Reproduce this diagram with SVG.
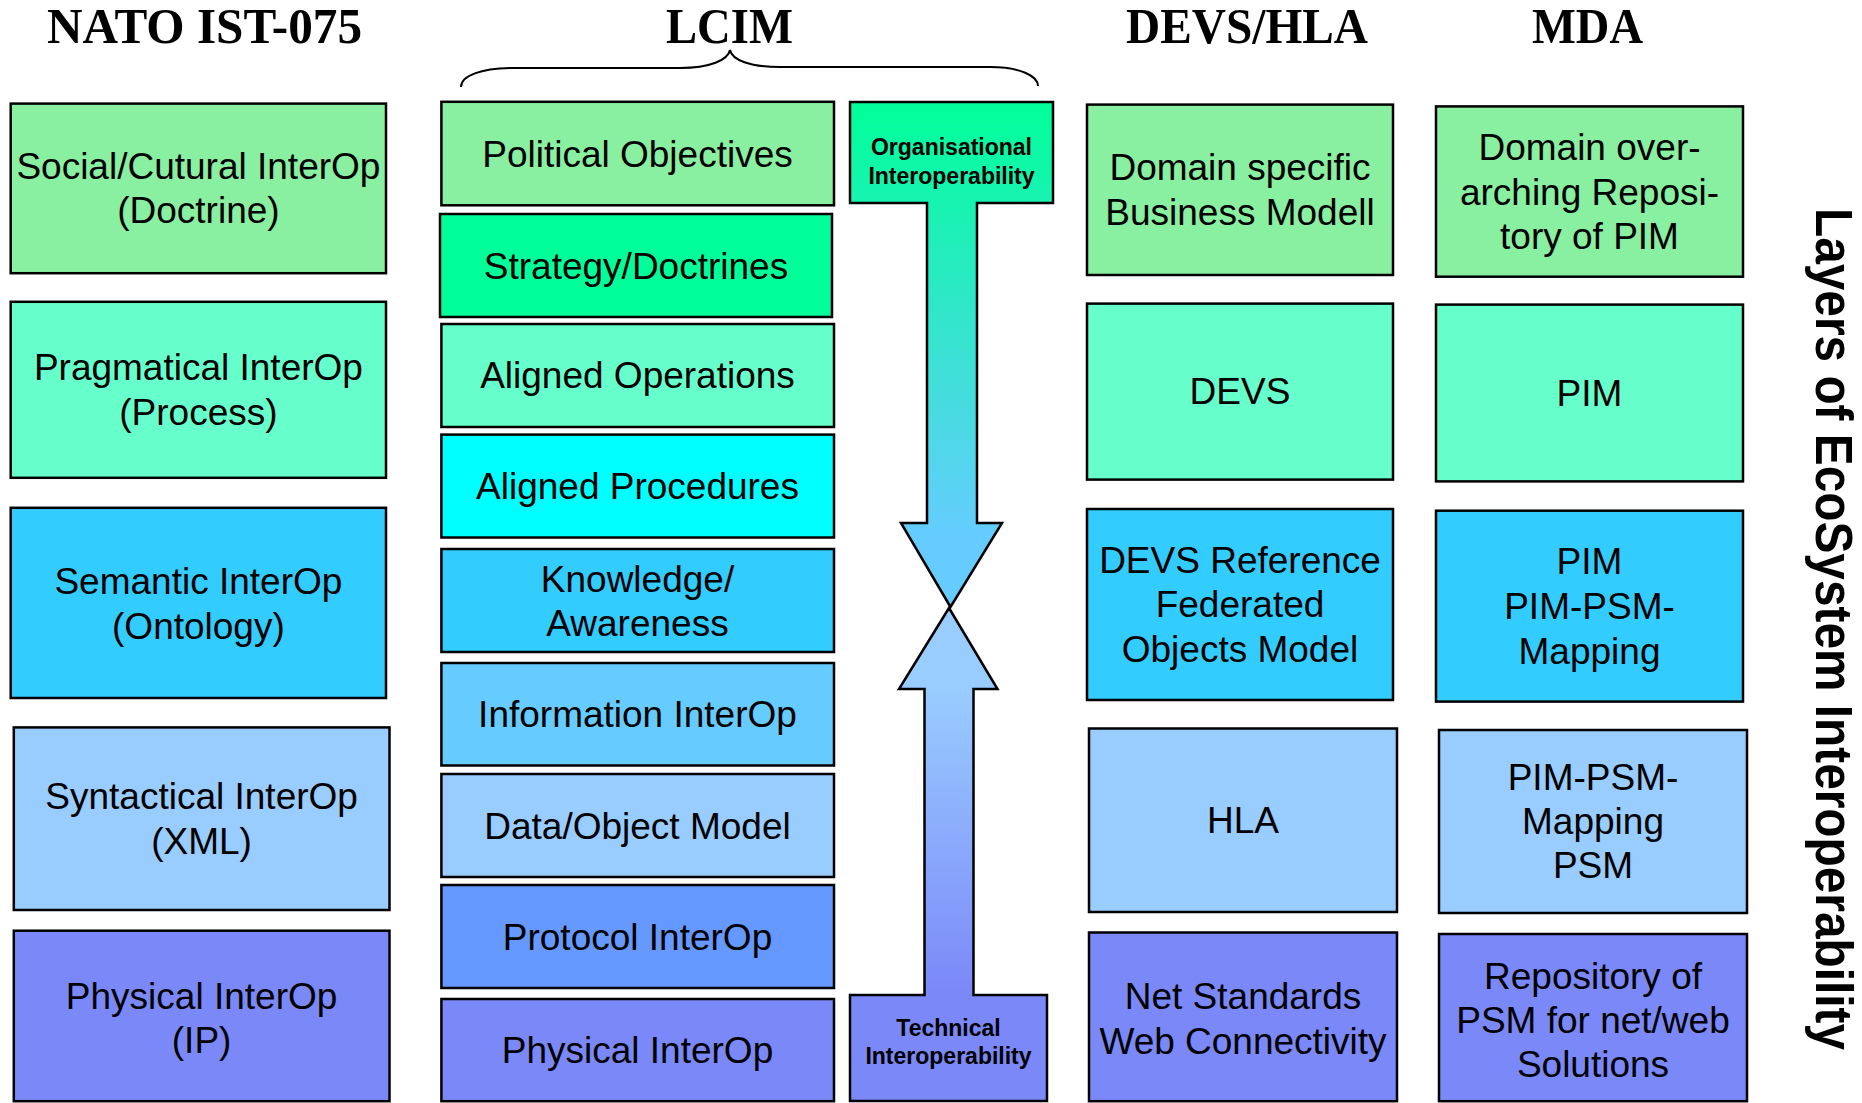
<svg xmlns="http://www.w3.org/2000/svg" width="1862" height="1103" viewBox="0 0 1862 1103">
<style>
.b{stroke:#000;stroke-width:2.5}
.t{font-family:"Liberation Sans",Arial,sans-serif;font-size:37px;fill:#000;text-anchor:middle}
.h{font-family:"Liberation Serif","Times New Roman",serif;font-size:50px;font-weight:bold;fill:#000;text-anchor:middle}
.s{font-family:"Liberation Sans",Arial,sans-serif;font-size:23px;font-weight:bold;fill:#000;text-anchor:middle}
.r1{fill:#88F0A0}.r2{fill:#66FFCC}.r3{fill:#33CCFF}.r4{fill:#99CCFF}.r5{fill:#7B88F8}
</style>
<defs>
<linearGradient id="gDown" gradientUnits="userSpaceOnUse" x1="0" y1="102" x2="0" y2="540">
<stop offset="0" stop-color="#00FF99"/><stop offset="1" stop-color="#66CCFF"/>
</linearGradient>
<linearGradient id="gUp" gradientUnits="userSpaceOnUse" x1="0" y1="690" x2="0" y2="995">
<stop offset="0" stop-color="#99CCFF"/><stop offset="1" stop-color="#7B88F8"/>
</linearGradient>
</defs>
<rect width="1862" height="1103" fill="#fff"/>

<g id="titles">
<text class="h" x="204.5" y="43" textLength="315" lengthAdjust="spacingAndGlyphs">NATO IST-075</text>
<text class="h" x="729.5" y="43" textLength="127" lengthAdjust="spacingAndGlyphs">LCIM</text>
<text class="h" x="1247" y="43" textLength="242" lengthAdjust="spacingAndGlyphs">DEVS/HLA</text>
<text class="h" x="1587.5" y="43" textLength="111" lengthAdjust="spacingAndGlyphs">MDA</text>
</g>

<g id="nato">
<g id="n1"><rect class="b r1" x="10.7" y="103.6" width="375.3" height="169.6"/><text class="t" x="198.4" y="178.6">Social/Cutural InterOp</text><text class="t" x="198.4" y="223">(Doctrine)</text></g>
<g id="n2"><rect class="b r2" x="10.7" y="301.8" width="375.3" height="176"/><text class="t" x="198.4" y="380">Pragmatical InterOp</text><text class="t" x="198.4" y="425">(Process)</text></g>
<g id="n3"><rect class="b r3" x="10.7" y="507.8" width="375.3" height="190.2"/><text class="t" x="198.4" y="594">Semantic InterOp</text><text class="t" x="198.4" y="639">(Ontology)</text></g>
<g id="n4"><rect class="b r4" x="13.8" y="727.4" width="375.7" height="182.6"/><text class="t" x="201.6" y="809">Syntactical InterOp</text><text class="t" x="201.6" y="854">(XML)</text></g>
<g id="n5"><rect class="b r5" x="13.8" y="930.7" width="375.7" height="170.5"/><text class="t" x="201.6" y="1008.5">Physical InterOp</text><text class="t" x="201.6" y="1053">(IP)</text></g>
</g>

<g id="lcim">
<g id="l1"><rect class="b r1" x="441.4" y="101.8" width="392.6" height="103.5"/><text class="t" x="637.5" y="167">Political Objectives</text></g>
<g id="l2"><rect class="b" fill="#00FF99" x="440" y="214" width="392" height="103"/><text class="t" x="636" y="279">Strategy/Doctrines</text></g>
<g id="l3"><rect class="b r2" x="441.4" y="324" width="392.6" height="103"/><text class="t" x="637.5" y="388">Aligned Operations</text></g>
<g id="l4"><rect class="b" fill="#00FFFF" x="441.4" y="434.6" width="392.6" height="102.9"/><text class="t" x="637.5" y="499">Aligned Procedures</text></g>
<g id="l5"><rect class="b r3" x="441.4" y="549" width="392.6" height="103"/><text class="t" x="637.5" y="592">Knowledge/</text><text class="t" x="637.5" y="636">Awareness</text></g>
<g id="l6"><rect class="b" fill="#66CCFF" x="441.4" y="663" width="392.6" height="102.5"/><text class="t" x="637.5" y="727">Information InterOp</text></g>
<g id="l7"><rect class="b r4" x="441.4" y="774" width="392.6" height="103"/><text class="t" x="637.5" y="838.5">Data/Object Model</text></g>
<g id="l8"><rect class="b" fill="#6699FF" x="441.4" y="885" width="392.6" height="103"/><text class="t" x="637.5" y="950">Protocol InterOp</text></g>
<g id="l9"><rect class="b r5" x="441.4" y="999" width="392.6" height="102.2"/><text class="t" x="637.5" y="1063">Physical InterOp</text></g>
</g>

<g id="connectors">
<path id="brace" d="M461,87 C461,76 480,68 515,68 L680,68 C710,68 728,60 730,50 C732,60 750,67 780,67 L990,67 C1020,67 1038,76 1038,86" fill="none" stroke="#000" stroke-width="2"/>
<g id="org-interop">
<path class="b" fill="url(#gDown)" d="M850,102 L1053,102 L1053,203 L977,203 L977,523 L1002,523 L950.5,607 L901,523 L927,523 L927,203 L850,203 Z"/>
<text class="s" x="951.5" y="155">Organisational</text><text class="s" x="951.5" y="184">Interoperability</text>
</g>
<g id="tech-interop">
<path class="b" fill="url(#gUp)" d="M949,608 L997.5,689 L973.5,689 L973.5,995 L1047,995 L1047,1101 L850,1101 L850,995 L924.5,995 L924.5,689 L899,689 Z"/>
<text class="s" x="948.5" y="1035.5">Technical</text><text class="s" x="948.5" y="1064">Interoperability</text>
</g>
</g>

<g id="devs">
<g id="d1"><rect class="b r1" x="1087" y="104.6" width="306" height="170.4"/><text class="t" x="1240" y="180">Domain specific</text><text class="t" x="1240" y="225">Business Modell</text></g>
<g id="d2"><rect class="b r2" x="1087" y="303.6" width="306" height="176"/><text class="t" x="1240" y="403.5">DEVS</text></g>
<g id="d3"><rect class="b r3" x="1087" y="509" width="306" height="191"/><text class="t" x="1240" y="573">DEVS Reference</text><text class="t" x="1240" y="617">Federated</text><text class="t" x="1240" y="662">Objects Model</text></g>
<g id="d4"><rect class="b r4" x="1089" y="728.5" width="308" height="183.5"/><text class="t" x="1243" y="832.6">HLA</text></g>
<g id="d5"><rect class="b r5" x="1089" y="932.5" width="308" height="168.7"/><text class="t" x="1243" y="1008.6">Net Standards</text><text class="t" x="1243" y="1053.5">Web Connectivity</text></g>
</g>

<g id="mda">
<g id="m1"><rect class="b r1" x="1436" y="106.4" width="307" height="170.3"/><text class="t" x="1589.5" y="160">Domain over-</text><text class="t" x="1589.5" y="205">arching Reposi-</text><text class="t" x="1589.5" y="249">tory of PIM</text></g>
<g id="m2"><rect class="b r2" x="1436" y="304.6" width="307" height="176.8"/><text class="t" x="1589.5" y="406">PIM</text></g>
<g id="m3"><rect class="b r3" x="1436" y="510.7" width="307" height="190.9"/><text class="t" x="1589.5" y="574">PIM</text><text class="t" x="1589.5" y="619">PIM-PSM-</text><text class="t" x="1589.5" y="664">Mapping</text></g>
<g id="m4"><rect class="b r4" x="1439" y="730" width="308" height="183"/><text class="t" x="1593" y="789.5">PIM-PSM-</text><text class="t" x="1593" y="834.4">Mapping</text><text class="t" x="1593" y="878">PSM</text></g>
<g id="m5"><rect class="b r5" x="1439" y="934" width="308" height="167.2"/><text class="t" x="1593" y="989">Repository of</text><text class="t" x="1593" y="1032.6">PSM for net/web</text><text class="t" x="1593" y="1076.8">Solutions</text></g>
</g>

<g id="side-label">
<text transform="translate(1816,208) rotate(90)" x="0" y="0" font-family="'Liberation Sans',Arial,sans-serif" font-size="51" font-weight="bold" textLength="842" lengthAdjust="spacingAndGlyphs">Layers of EcoSystem Interoperability</text>
</g>
</svg>
